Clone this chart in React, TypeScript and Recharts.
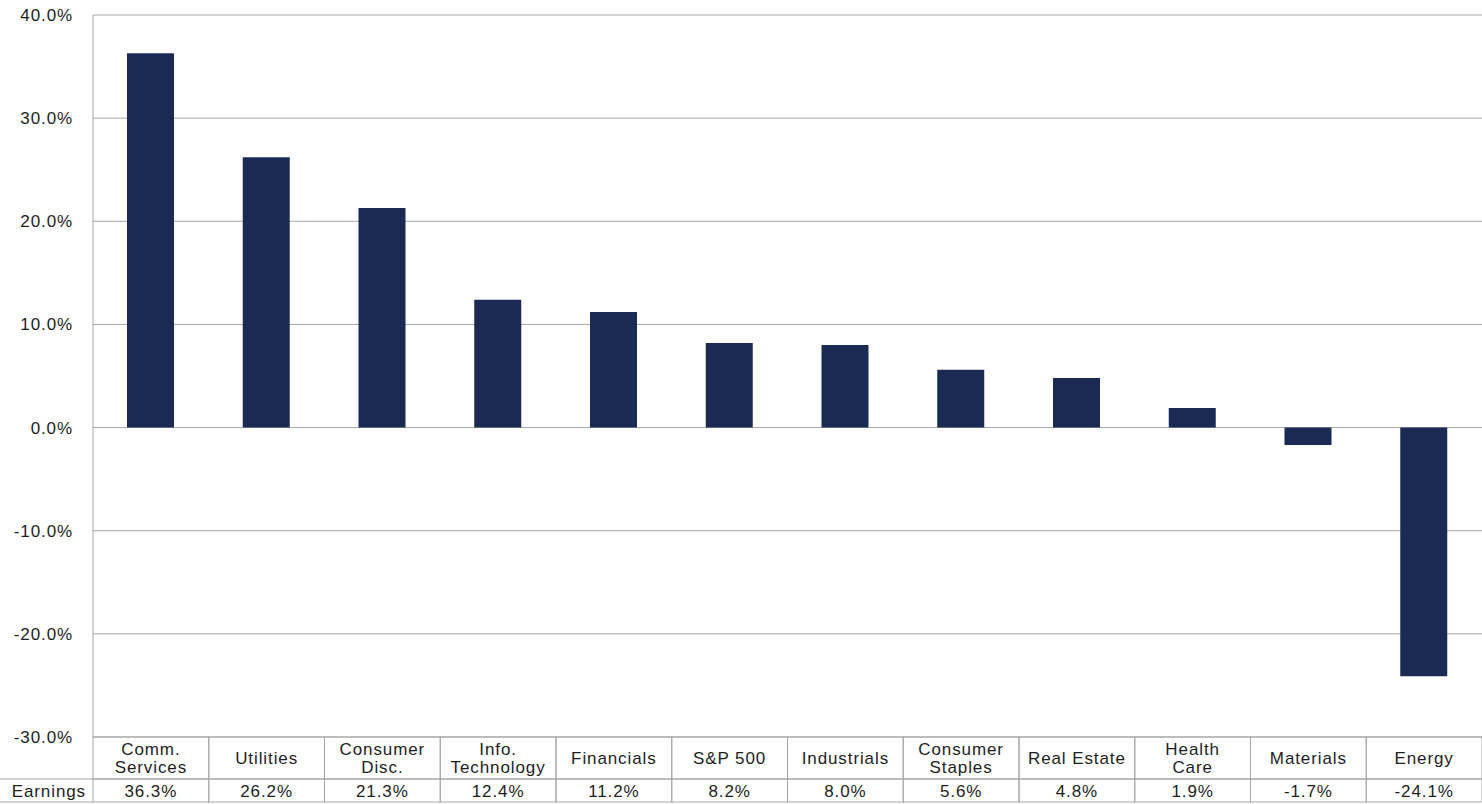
import { BarChart, Bar, XAxis, YAxis, CartesianGrid } from "recharts"

const categories = [
  "Comm.\nServices",
  "Utilities",
  "Consumer\nDisc.",
  "Info.\nTechnology",
  "Financials",
  "S&P 500",
  "Industrials",
  "Consumer\nStaples",
  "Real Estate",
  "Health\nCare",
  "Materials",
  "Energy",
]
const growth = [36.3, 26.2, 21.3, 12.4, 11.2, 8.2, 8.0, 5.6, 4.8, 1.9, -1.7, -24.1]
const yTicks = [-30, -20, -10, 0, 10, 20, 30, 40]
const rowLabel = "Earnings"

const data = categories.map((c, i) => ({ name: c, value: growth[i] }))

const W = 1482
const H = 804
const AXIS_W = 93
const TABLE_TOP = 737
const ROW1 = 42
const ROW2 = 23
const COL_W = (W - AXIS_W) / categories.length
const GRID = "#a6a6a6"
const FONT = "'Liberation Sans', Arial, sans-serif"
const TEXT = "#1e1e1e"

function TableTick(props: any) {
  const { x, index, payload } = props
  const lines = String(payload.value).split("\n")
  const left = x - COL_W / 2
  const midRow1 = TABLE_TOP + ROW1 / 2
  return (
    <g fontFamily={FONT} fontSize={17} letterSpacing={0.9} fill={TEXT}>
      {index === 0 && (
        <g>
          <line x1={0} x2={left} y1={TABLE_TOP + ROW1} y2={TABLE_TOP + ROW1} stroke={GRID} />
          <line x1={0} x2={left} y1={TABLE_TOP + ROW1 + ROW2} y2={TABLE_TOP + ROW1 + ROW2} stroke={GRID} />
          <text x={left - 7} y={TABLE_TOP + ROW1 + ROW2 / 2 + 6} textAnchor="end">
            {rowLabel}
          </text>
        </g>
      )}
      <rect x={left} y={TABLE_TOP} width={COL_W} height={ROW1} fill="none" stroke={GRID} />
      <rect x={left} y={TABLE_TOP + ROW1} width={COL_W} height={ROW2} fill="none" stroke={GRID} />
      {lines.length === 1 ? (
        <text x={x} y={midRow1 + 6} textAnchor="middle">
          {lines[0]}
        </text>
      ) : (
        lines.map((l, k) => (
          <text key={k} x={x} y={midRow1 - 3 + k * 18} textAnchor="middle">
            {l}
          </text>
        ))
      )}
      <text x={x} y={TABLE_TOP + ROW1 + ROW2 / 2 + 6} textAnchor="middle">
        {growth[index].toFixed(1) + "%"}
      </text>
    </g>
  )
}

export default function App() {
  return (
    <div style={{ position: "absolute", left: 0, top: 0, width: W, height: H, background: "#fff" }}>
      <BarChart width={W} height={H} data={data} margin={{ top: 15, right: 0, left: 0, bottom: 0 }}>
        <CartesianGrid vertical={false} stroke={GRID} />
        <XAxis
          dataKey="name"
          height={H - TABLE_TOP}
          axisLine={false}
          tickLine={false}
          interval={0}
          tick={<TableTick />}
        />
        <YAxis
          domain={[-30, 40]}
          ticks={yTicks}
          width={AXIS_W}
          axisLine={{ stroke: GRID }}
          tickLine={false}
          tickFormatter={(v: number) => v.toFixed(1) + "%"}
          tick={{ fill: TEXT, fontSize: 17, fontFamily: FONT, letterSpacing: 0.9 }}
          tickMargin={14}
        />
        <Bar dataKey="value" fill="#1b2a53" barSize={47} isAnimationActive={false} />
      </BarChart>
    </div>
  )
}
